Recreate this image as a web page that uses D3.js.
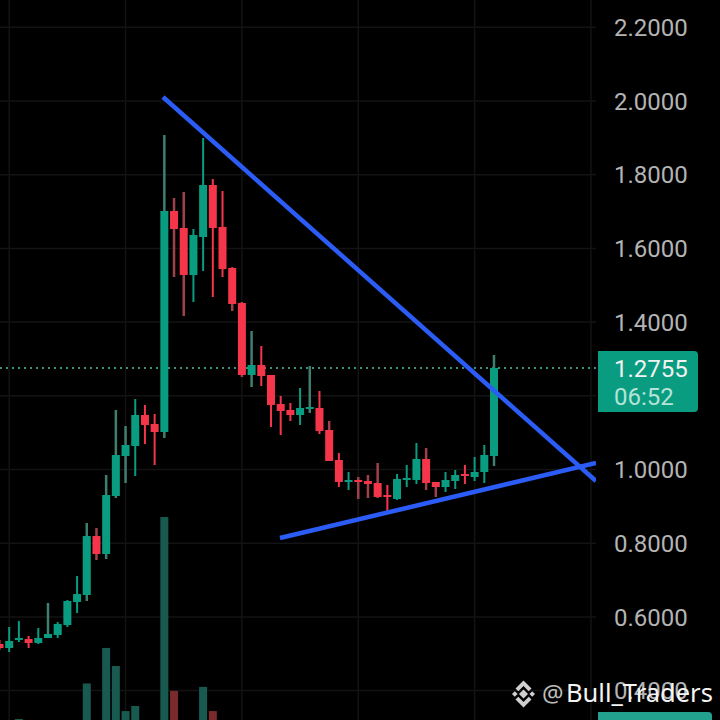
<!DOCTYPE html>
<html lang="en">
<head>
    <meta charset="UTF-8">
    <title>Bull_Traders chart</title>
    <script src="https://d3js.org/d3.v7.min.js"></script>
    <style>
        html, body { margin: 0; padding: 0; background: #000; }
        svg { display: block; }
        .tick text { font-family: Roboto, sans-serif; }
    </style>
</head>
<body>
<div id="chart"></div>
<script>
// candle values, left to right
const opens = [.5265,.5156,.5373,.5400,.5292,.5427,.5509,.5780,.6405,.6594,.8195,.7707,.9281,1.0366,1.0638,1.1479,1.1235,
    1.1018,1.7015,1.6554,1.5278,1.6309,1.7720,1.6581,1.5468,1.4518,1.2565,1.2836,1.2565,1.1778,1.1615,1.1479,1.1642,1.1669,
    1.1072,1.0258,.9661,.9715,.9688,.9634,.9308,.9199,.9715,.9715,1.0285,.9661,.9525,.9688,.9878,.9797,.9932,1.0366];
const highs = [.5373,.5726,.5889,.5482,.5699,.6377,.5862,.6459,.7110,.8548,.8412,.9851,1.1615,1.1180,1.1913,1.1751,1.1506,
    1.9077,1.7368,1.7531,1.6527,1.8996,1.7883,1.7558,1.5495,1.4545,1.3758,1.3351,1.2565,1.1995,1.1805,1.2212,1.2809,1.2130,
    1.1316,1.0448,.9932,.9797,.9851,1.0177,.9579,.9878,1.0122,1.0719,1.0583,.9661,.9932,.9986,1.0122,1.0339,1.0665,1.3108];
const lows = [.5102,.5047,.5319,.5156,.5265,.5427,.5427,.5726,.6106,.6432,.7544,.7571,.9227,.9634,.9823,1.0692,1.0122,
    1.0855,1.5224,1.4165,1.4545,1.5387,1.4681,1.5224,1.4301,1.2510,1.2239,1.2266,1.1154,1.0936,1.1316,1.1208,1.1534,1.0963,
    1.0231,.9525,.9444,.9199,.9227,.9227,.8874,.9172,.9525,.9607,.9444,.9254,.9389,.9471,.9607,.9688,.9634,1.0095];
const closes = [.5156,.5346,.5427,.5292,.5427,.5536,.5807,.6432,.6621,.8195,.7707,.9308,1.0393,1.0665,1.1479,1.1208,1.1018,
    1.7015,1.6527,1.5278,1.6364,1.7720,1.6554,1.5441,1.4491,1.2565,1.2836,1.2538,1.1751,1.1588,1.1479,1.1669,1.1696,1.1045,
    1.0231,.9661,.9715,.9661,.9607,.9254,.9254,.9742,.9769,1.0285,.9634,.9525,.9715,.9851,.9824,.9932,1.0393,1.2755];

// volume pane, only the bars tall enough to show above the bottom edge
const volumeIndex = [2, 9, 11, 12, 13, 14, 17, 18, 21, 22];
const volumeValues = [0.5, 18, 35.5, 26.6, 4.4, 6.9, 100, 14.3, 16.3, 4.4];

const priceTicks = [0.4, 0.6, 0.8, 1.0, 1.2, 1.4, 1.6, 1.8, 2.0, 2.2];
const labelledTicks = [0.4, 0.6, 0.8, 1.0, 1.4, 1.6, 1.8, 2.0, 2.2];
const timeGrid = [1, 13, 25, 37, 49, 61];
const dimWicks = [5, 9, 10, 11, 12, 13, 17, 18, 19, 24, 25, 26, 32, 34, 37, 38, 39, 44, 45, 51];

const trendIndex = [[16.86, 61.52], [28.93, 61.52]];
const trendPrice = [[2.0108, 0.9688], [0.8141, 1.0177]];

const lastPrice = 1.2755;
const countdown = "06:52";

const width = 720, height = 720, plotRight = 596;
const green = "#0a9c80", red = "#f5364a";

const x = d3.scaleLinear().domain([0, 51]).range([-0.5, 494]);
const y = d3.scaleLinear().domain([0.4, 2.2]).range([690.6, 27.3]);
const yVol = d3.scaleLinear().domain([0, 100]).range([720, 517]);

const svg = d3.select("#chart").append("svg")
    .attr("width", width)
    .attr("height", height)
    .style("background", "#000");

svg.append("defs").append("clipPath").attr("id", "plot")
    .append("rect").attr("width", plotRight).attr("height", height);

// grid
svg.append("g").selectAll("line").data(priceTicks).enter().append("line")
    .attr("x1", 0).attr("x2", plotRight)
    .attr("y1", d => y(d)).attr("y2", d => y(d))
    .attr("stroke", "#131313").attr("stroke-width", 1.5);

svg.append("g").selectAll("line").data(timeGrid).enter().append("line")
    .attr("x1", d => x(d)).attr("x2", d => x(d))
    .attr("y1", 0).attr("y2", height)
    .attr("stroke", "#131313").attr("stroke-width", 1.5);

// volume
svg.append("g").selectAll("rect").data(volumeIndex).enter().append("rect")
    .attr("x", d => x(d) - 4)
    .attr("width", 8)
    .attr("y", (d, i) => yVol(volumeValues[i]))
    .attr("height", (d, i) => yVol(0) - yVol(volumeValues[i]))
    .attr("fill", (d, i) => closes[d] >= opens[d] ? "#185a50" : "#7a2a2c");

// last price line
svg.append("line")
    .attr("x1", 0).attr("x2", plotRight)
    .attr("y1", y(lastPrice)).attr("y2", y(lastPrice))
    .attr("stroke", "#3d8f7f").attr("stroke-width", 2)
    .attr("stroke-dasharray", "2 4");

// candles
const candles = svg.append("g").selectAll("g").data(d3.range(opens.length)).enter().append("g");

candles.append("line")
    .attr("x1", d => x(d)).attr("x2", d => x(d))
    .attr("y1", d => y(highs[d])).attr("y2", d => y(lows[d]))
    .attr("stroke-width", d => dimWicks.includes(d) ? 2.5 : 2)
    .attr("stroke", d => {
        const up = closes[d] >= opens[d];
        if (dimWicks.includes(d)) return up ? "#3f7f70" : "#a0404a";
        return up ? green : red;
    });

candles.append("rect")
    .attr("x", d => x(d) - 4)
    .attr("width", 8)
    .attr("y", d => y(Math.max(opens[d], closes[d])))
    .attr("height", d => Math.max(2, Math.abs(y(opens[d]) - y(closes[d]))))
    .attr("fill", d => closes[d] >= opens[d] ? green : red);

// trend lines
svg.append("g").attr("clip-path", "url(#plot)")
    .selectAll("line").data(trendIndex).enter().append("line")
    .attr("x1", d => x(d[0])).attr("x2", d => x(d[1]))
    .attr("y1", (d, i) => y(trendPrice[i][0])).attr("y2", (d, i) => y(trendPrice[i][1]))
    .attr("stroke", "#2b5cf6").attr("stroke-width", 4.5);

// price axis
const axis = svg.append("g")
    .attr("transform", "translate(604,0)")
    .call(d3.axisRight(y).tickValues(labelledTicks).tickFormat(d => d.toFixed(4)).tickSize(0).tickPadding(11));
axis.select(".domain").remove();
axis.selectAll("text")
    .attr("fill", "#b4b4b4")
    .attr("x", 10)
    .attr("dy", "0.34em")
    .style("font-size", "24px")
    .style("font-family", "Roboto, sans-serif");

// last price tag
svg.append("path")
    .attr("d", "M598,351H694a4,4 0 0 1 4,4V408a4,4 0 0 1 -4,4H598Z")
    .attr("fill", "#0a9c80");
svg.append("text").attr("x", 614).attr("y", 377)
    .attr("fill", "#f2f2f2")
    .style("font", "24px Roboto, sans-serif")
    .text(lastPrice.toFixed(4));
svg.append("text").attr("x", 614).attr("y", 405)
    .attr("fill", "#b5e3d8")
    .style("font", "24px Roboto, sans-serif")
    .text(countdown);

// volume tag cut off at the bottom
svg.append("path")
    .attr("d", "M598,720V712H708a4,4 0 0 1 4,4V720Z")
    .attr("fill", "#22a28e");

// watermark
const mark = svg.append("g").attr("transform", "translate(523.5,694)").attr("fill", "#d0d0d0");
mark.append("path").attr("d", "M0,-4.5L4.5,0L0,4.5L-4.5,0Z");
mark.append("path").attr("d", "M-11.5,0L-8.7,-2.8L-5.9,0L-8.7,2.8Z");
mark.append("path").attr("d", "M11.5,0L8.7,-2.8L5.9,0L8.7,2.8Z");
mark.append("path").attr("d", "M0,-13.5L8,-5.5L5.2,-2.7L0,-7.9L-5.2,-2.7L-8,-5.5Z");
mark.append("path").attr("d", "M0,13.5L8,5.5L5.2,2.7L0,7.9L-5.2,2.7L-8,5.5Z");

svg.append("text").attr("x", 542).attr("y", 702)
    .attr("fill", "#bdbdbd")
    .style("font", "24px 'Noto Sans', sans-serif")
    .text("@");
svg.append("text").attr("x", 566).attr("y", 702)
    .attr("fill", "#f4f4f4")
    .style("font", "25.5px 'Noto Sans', sans-serif")
    .text("Bull_Traders");
</script>
</body>
</html>
